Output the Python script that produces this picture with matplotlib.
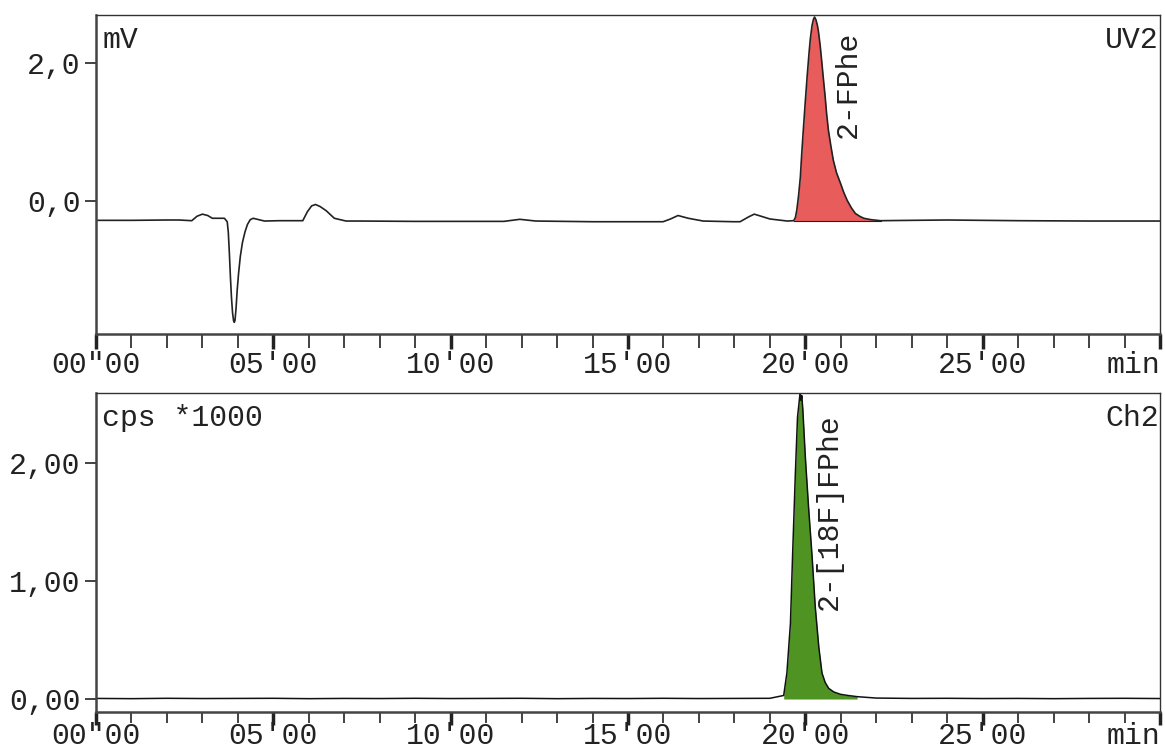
import matplotlib.pyplot as plt
from matplotlib.ticker import MultipleLocator
import numpy as np

# UV trace (mV)
uv_t = [0.0, 1.0, 2.0, 2.34, 2.7, 2.85, 3.0, 3.15, 3.28, 3.62, 3.70, 3.73, 3.76,
        3.79, 3.82, 3.85, 3.88, 3.90, 3.92, 3.95, 3.98, 4.02, 4.07, 4.13, 4.20,
        4.27, 4.35, 4.43, 4.75, 5.17, 5.83, 5.96, 6.08, 6.19, 6.32, 6.49, 6.72,
        7.05, 7.43, 9.0, 11.5, 11.95, 12.4, 14.0, 15.99, 16.2, 16.41, 16.7,
        17.12, 17.97, 18.16, 18.4, 18.56, 18.75, 19.0, 19.49, 19.67, 19.72,
        19.76, 19.81, 19.86, 19.90, 19.95, 20.00, 20.05, 20.10, 20.14, 20.19,
        20.23, 20.26, 20.30, 20.34, 20.37, 20.42, 20.46, 20.51, 20.56, 20.60,
        20.65, 20.72, 20.79, 20.88, 20.99, 21.08, 21.18, 21.30, 21.41, 21.53,
        21.65, 21.85, 22.12, 23.0, 24.0, 26.0, 28.0, 30.0]
uv_mv = [-0.28, -0.28, -0.275, -0.275, -0.285, -0.22, -0.19, -0.21, -0.25, -0.25,
         -0.30, -0.45, -0.75, -1.10, -1.40, -1.62, -1.74, -1.76, -1.73, -1.55,
         -1.30, -1.05, -0.80, -0.60, -0.45, -0.34, -0.27, -0.25, -0.29, -0.285,
         -0.285, -0.155, -0.07, -0.05, -0.08, -0.14, -0.25, -0.29, -0.29, -0.295,
         -0.295, -0.265, -0.29, -0.30, -0.30, -0.26, -0.21, -0.25, -0.29, -0.30,
         -0.30, -0.23, -0.19, -0.22, -0.26, -0.29, -0.285, -0.24, -0.13, 0.08,
         0.35, 0.70, 1.08, 1.45, 1.80, 2.12, 2.35, 2.55, 2.64, 2.67, 2.63, 2.55,
         2.46, 2.25, 2.04, 1.77, 1.51, 1.27, 1.03, 0.80, 0.59, 0.41, 0.26, 0.13,
         0.01, -0.10, -0.18, -0.22, -0.25, -0.27, -0.285, -0.28, -0.275, -0.285,
         -0.29, -0.29]

# radio trace (cps *1000)
ra_t = [0.0, 1.0, 2.0, 3.0, 4.0, 5.0, 6.0, 7.0, 8.0, 9.0, 10.0, 11.0, 12.0, 13.0,
        14.0, 15.0, 16.0, 17.0, 18.0, 19.0, 19.39, 19.48, 19.58, 19.64, 19.72,
        19.78, 19.82, 19.84, 19.86, 19.88, 19.9, 19.93, 20.0, 20.09, 20.19, 20.28,
        20.38, 20.47, 20.56, 20.66, 20.80, 20.99, 21.2, 21.46, 22.0, 23.0, 24.0,
        25.0, 26.0, 27.0, 28.0, 29.0, 30.0]
ra_cps = [0.005, 0.003, 0.006, 0.004, 0.005, 0.006, 0.003, 0.005, 0.004, 0.006,
          0.004, 0.005, 0.006, 0.003, 0.005, 0.004, 0.006, 0.004, 0.005, 0.006,
          0.03, 0.22, 0.64, 1.21, 1.92, 2.39, 2.50, 2.56, 2.59, 2.53, 2.57, 2.45,
          2.05, 1.63, 1.21, 0.78, 0.44, 0.22, 0.14, 0.09, 0.06, 0.04, 0.03, 0.02,
          0.008, 0.005, 0.006, 0.004, 0.005, 0.003, 0.005, 0.006, 0.004]

uv_peak = (19.67, 22.12)
ra_peak = (19.39, 21.46)

xtick_vals = [0, 5, 10, 15, 20, 25, 30]
xtick_text = ['00"00', "05'00", "10'00", "15'00", "20'00", "25'00", "min"]

plt.rcParams['font.family'] = ['Liberation Mono', 'DejaVu Sans Mono']
FS = 21.5
txt_col = '#222222'

fig = plt.figure(figsize=(11.65, 7.49), dpi=100)
ax1 = fig.add_axes([0.0824, 0.554, 0.9133, 0.426])
ax2 = fig.add_axes([0.0824, 0.0494, 0.9133, 0.426])


def style(ax, xpad, tlen):
    ax.set_xlim(0, 30)
    ax.xaxis.set_minor_locator(MultipleLocator(1))
    ax.set_xticks(xtick_vals)
    ax.set_xticklabels(xtick_text)
    ax.get_xticklabels()[-1].set_horizontalalignment('right')
    ax.tick_params(axis='x', which='major', direction='out', length=tlen, width=2.5,
                   labelsize=FS, pad=xpad, color='#222', labelcolor=txt_col)
    ax.tick_params(axis='x', which='minor', direction='out', length=tlen - 1,
                   width=1.2, color='#222')
    ax.tick_params(axis='y', direction='out', length=8, width=1.2,
                   labelsize=FS, pad=3, color='#222', labelcolor=txt_col)
    for s in ['left', 'bottom']:
        ax.spines[s].set_linewidth(1.8)
        ax.spines[s].set_color('#444')
    for s in ['top', 'right']:
        ax.spines[s].set_linewidth(1.0)
        ax.spines[s].set_color('#333')


t1 = np.array(uv_t)
y1 = np.array(uv_mv)
m1 = (t1 >= uv_peak[0]) & (t1 <= uv_peak[1])
ax1.fill_between(t1, y1, -0.285, where=m1, color='#e85c5c', lw=0)
ax1.plot(t1, y1, color='#222', lw=1.2)
ax1.plot(uv_peak, [-0.285, -0.285], color='#222', lw=0.8)
ax1.set_ylim(-1.93, 2.70)
ax1.set_yticks([0, 2])
ax1.set_yticklabels(['0,0', '2,0'])
style(ax1, 1, 11)
ax1.text(0.006, 0.965, 'mV', transform=ax1.transAxes, ha='left', va='top',
         fontsize=FS, color=txt_col)
ax1.text(0.999, 0.965, 'UV2', transform=ax1.transAxes, ha='right', va='top',
         fontsize=FS, color=txt_col)
ax1.text(21.19, 0.91, '2-FPhe', rotation=90, ha='center', va='bottom',
         fontsize=FS, color=txt_col)

t2 = np.array(ra_t)
y2 = np.array(ra_cps)
m2 = (t2 >= ra_peak[0]) & (t2 <= ra_peak[1])
ax2.fill_between(t2, y2, 0, where=m2, color='#4f9423', lw=0)
ax2.plot(t2, y2, color='#111', lw=1.1)
ax2.set_ylim(-0.11, 2.593)
ax2.set_yticks([0, 1, 2])
ax2.set_yticklabels(['0,00', '1,00', '2,00'])
style(ax2, -2, 9)
ax2.text(0.006, 0.965, 'cps *1000', transform=ax2.transAxes, ha='left', va='top',
         fontsize=FS, color=txt_col)
ax2.text(0.999, 0.965, 'Ch2', transform=ax2.transAxes, ha='right', va='top',
         fontsize=FS, color=txt_col)
ax2.text(20.65, 0.75, '2-[18F]FPhe', rotation=90, ha='center', va='bottom',
         fontsize=FS, color=txt_col)

fig.savefig('out.png', dpi=100)
